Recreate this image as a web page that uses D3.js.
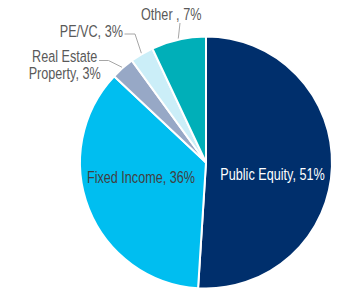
<!DOCTYPE html>
<html><head><meta charset="utf-8">
<script src="https://cdn.jsdelivr.net/npm/d3@7"></script>
<style>html,body{margin:0;padding:0;background:#fff;}svg{display:block;}</style>
</head><body>
<svg id="c" width="351" height="307"></svg>
<script>
const categories = ["Public Equity", "Fixed Income", "Real Estate Property", "PE/VC", "Other"];
const values = [51, 36, 3, 3, 7];
const labels = [["Public Equity, 51%"], ["Fixed Income, 36%"], ["Real Estate", "Property, 3%"], ["PE/VC, 3%"], ["Other , 7%"]];
const colors = ["#002F6C", "#00BEF0", "#97A8C6", "#CBEEF8", "#00AFB8"];

const svg = d3.select("#c");
const cx = 206, cy = 162.5, R = 126;
const g = svg.append("g").attr("transform", `translate(${cx},${cy})`);
const pie = d3.pie().sort(null).value(d => d)(values);
const arc = d3.arc().innerRadius(0).outerRadius(R);
g.selectAll("path").data(pie).join("path")
  .attr("d", arc).attr("fill", (d, i) => colors[i])
  .attr("stroke", "#fff").attr("stroke-width", 2).attr("stroke-linejoin", "round");

// label layout (px, relative to svg) – presentation only
const layout = [
  {x: 272.5, y: 179.5, fill: "#fff"},
  {x: 141, y: 182.5, fill: "#404040"},
  {x: 64.7, y: 62, fill: "#595959", leader: [[99, 60.5], [108.5, 60.5]]},
  {x: 91.3, y: 37, fill: "#595959", leader: [[124.5, 34], [135, 34]]},
  {x: 171.2, y: 19.5, fill: "#595959", leader: [[180, 23]]}
];
const FS = 15.6, SX = 0.81, LH = 17;
pie.forEach((d, i) => {
  const L = layout[i];
  if (L.leader) {
    const mid = (d.startAngle + d.endAngle) / 2;
    const p = [cx + (R + 1) * Math.sin(mid), cy - (R + 1) * Math.cos(mid)];
    const pts = L.leader.concat([p]);
    svg.append("path").attr("d", d3.line()(pts)).attr("fill", "none")
      .attr("stroke", "#A6A6A6").attr("stroke-width", 1);
  }
  const t = svg.append("text")
    .attr("transform", `translate(${L.x},${L.y}) scale(${SX},1)`)
    .attr("text-anchor", "middle")
    .attr("font-family", "'Liberation Sans', Arial, sans-serif")
    .attr("font-size", FS).attr("fill", L.fill);
  labels[i].forEach((s, k) => t.append("tspan").attr("x", 0).attr("y", k * LH).text(s));
});
</script>
</body></html>
